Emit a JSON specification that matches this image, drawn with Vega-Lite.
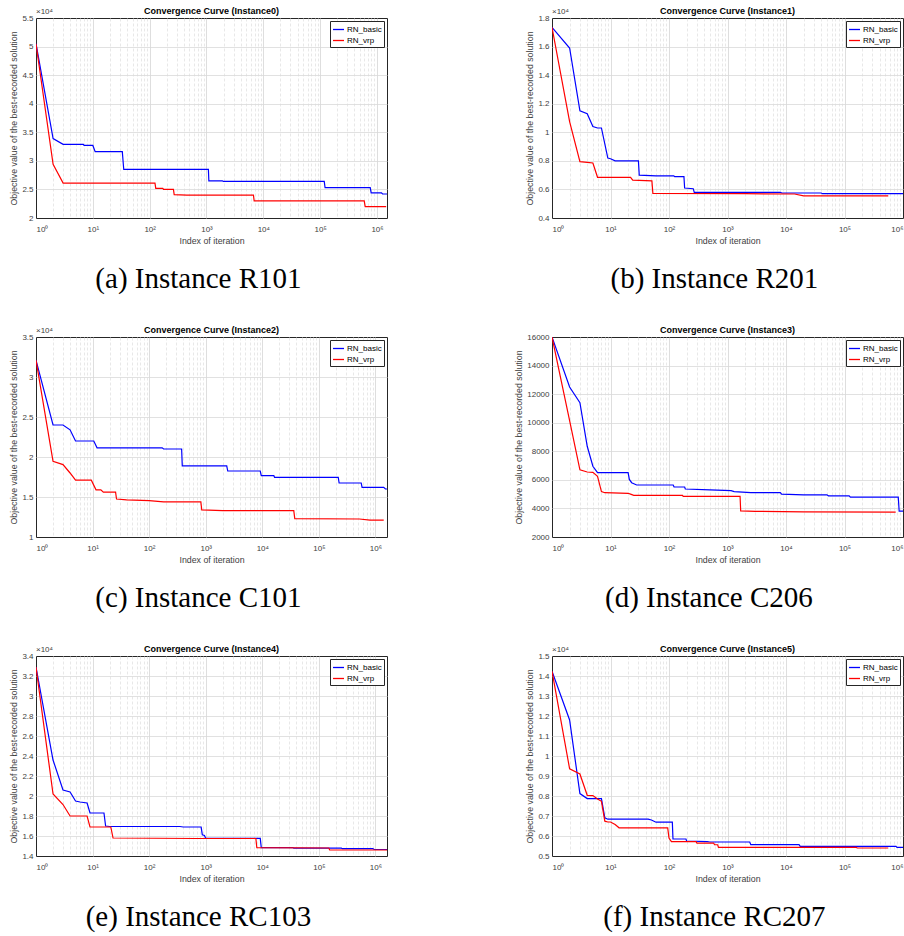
{
"$schema":"https://vega.github.io/schema/vega-lite/v6.json",
"padding":{"left":9,"top":6,"right":0,"bottom":0},
"data":{"values":[
{"p":"a","s":"RN_basic","x":1,"y":50500},{"p":"a","s":"RN_basic","x":2,"y":33900},{"p":"a","s":"RN_basic","x":3,"y":32900},{"p":"a","s":"RN_basic","x":6.8,"y":32900},{"p":"a","s":"RN_basic","x":7,"y":32700},{"p":"a","s":"RN_basic","x":10,"y":32700},{"p":"a","s":"RN_basic","x":11,"y":31600},{"p":"a","s":"RN_basic","x":33,"y":31600},{"p":"a","s":"RN_basic","x":35,"y":28500},{"p":"a","s":"RN_basic","x":1080,"y":28500},{"p":"a","s":"RN_basic","x":1100,"y":26500},{"p":"a","s":"RN_basic","x":1900,"y":26500},{"p":"a","s":"RN_basic","x":2000,"y":26400},{"p":"a","s":"RN_basic","x":118000,"y":26400},{"p":"a","s":"RN_basic","x":122000,"y":25300},{"p":"a","s":"RN_basic","x":760000,"y":25300},{"p":"a","s":"RN_basic","x":790000,"y":24400},{"p":"a","s":"RN_basic","x":1200000,"y":24400},{"p":"a","s":"RN_basic","x":1250000,"y":24200},{"p":"a","s":"RN_basic","x":1500000,"y":24200},
{"p":"a","s":"RN_vrp","x":1,"y":50500},{"p":"a","s":"RN_vrp","x":2,"y":29400},{"p":"a","s":"RN_vrp","x":3,"y":26100},{"p":"a","s":"RN_vrp","x":124,"y":26100},{"p":"a","s":"RN_vrp","x":128,"y":25200},{"p":"a","s":"RN_vrp","x":170,"y":25200},{"p":"a","s":"RN_vrp","x":175,"y":25000},{"p":"a","s":"RN_vrp","x":262,"y":25000},{"p":"a","s":"RN_vrp","x":270,"y":24100},{"p":"a","s":"RN_vrp","x":450,"y":24000},{"p":"a","s":"RN_vrp","x":6700,"y":24000},{"p":"a","s":"RN_vrp","x":6900,"y":23000},{"p":"a","s":"RN_vrp","x":596000,"y":23000},{"p":"a","s":"RN_vrp","x":620000,"y":22000},{"p":"a","s":"RN_vrp","x":1450000,"y":22000},
{"p":"b","s":"RN_basic","x":1,"y":17350},{"p":"b","s":"RN_basic","x":2,"y":15900},{"p":"b","s":"RN_basic","x":3,"y":11500},{"p":"b","s":"RN_basic","x":4,"y":11300},{"p":"b","s":"RN_basic","x":5,"y":10400},{"p":"b","s":"RN_basic","x":6,"y":10300},{"p":"b","s":"RN_basic","x":7,"y":10300},{"p":"b","s":"RN_basic","x":9,"y":8200},{"p":"b","s":"RN_basic","x":10,"y":8150},{"p":"b","s":"RN_basic","x":12,"y":8000},{"p":"b","s":"RN_basic","x":30,"y":8000},{"p":"b","s":"RN_basic","x":31,"y":7000},{"p":"b","s":"RN_basic","x":60,"y":6950},{"p":"b","s":"RN_basic","x":120,"y":6950},{"p":"b","s":"RN_basic","x":125,"y":6900},{"p":"b","s":"RN_basic","x":180,"y":6900},{"p":"b","s":"RN_basic","x":185,"y":6100},{"p":"b","s":"RN_basic","x":260,"y":6050},{"p":"b","s":"RN_basic","x":270,"y":5800},{"p":"b","s":"RN_basic","x":8000,"y":5800},{"p":"b","s":"RN_basic","x":8500,"y":5750},{"p":"b","s":"RN_basic","x":40000,"y":5750},{"p":"b","s":"RN_basic","x":42000,"y":5700},{"p":"b","s":"RN_basic","x":1000000,"y":5700},
{"p":"b","s":"RN_vrp","x":1,"y":17350},{"p":"b","s":"RN_vrp","x":2,"y":10750},{"p":"b","s":"RN_vrp","x":3,"y":7950},{"p":"b","s":"RN_vrp","x":4,"y":7900},{"p":"b","s":"RN_vrp","x":5,"y":7850},{"p":"b","s":"RN_vrp","x":6,"y":6850},{"p":"b","s":"RN_vrp","x":22,"y":6850},{"p":"b","s":"RN_vrp","x":24,"y":6650},{"p":"b","s":"RN_vrp","x":51,"y":6600},{"p":"b","s":"RN_vrp","x":53,"y":5730},{"p":"b","s":"RN_vrp","x":2000,"y":5700},{"p":"b","s":"RN_vrp","x":14000,"y":5680},{"p":"b","s":"RN_vrp","x":20000,"y":5550},{"p":"b","s":"RN_vrp","x":560000,"y":5550},
{"p":"c","s":"RN_basic","x":1,"y":32100},{"p":"c","s":"RN_basic","x":2,"y":24000},{"p":"c","s":"RN_basic","x":3,"y":24000},{"p":"c","s":"RN_basic","x":4,"y":23400},{"p":"c","s":"RN_basic","x":5,"y":22000},{"p":"c","s":"RN_basic","x":10.5,"y":22000},{"p":"c","s":"RN_basic","x":12,"y":21150},{"p":"c","s":"RN_basic","x":170,"y":21150},{"p":"c","s":"RN_basic","x":180,"y":21000},{"p":"c","s":"RN_basic","x":375,"y":21000},{"p":"c","s":"RN_basic","x":385,"y":18900},{"p":"c","s":"RN_basic","x":2350,"y":18900},{"p":"c","s":"RN_basic","x":2450,"y":18250},{"p":"c","s":"RN_basic","x":9200,"y":18250},{"p":"c","s":"RN_basic","x":9600,"y":17670},{"p":"c","s":"RN_basic","x":16000,"y":17670},{"p":"c","s":"RN_basic","x":16500,"y":17450},{"p":"c","s":"RN_basic","x":220000,"y":17450},{"p":"c","s":"RN_basic","x":228000,"y":16750},{"p":"c","s":"RN_basic","x":560000,"y":16750},{"p":"c","s":"RN_basic","x":580000,"y":16200},{"p":"c","s":"RN_basic","x":1400000,"y":16200},{"p":"c","s":"RN_basic","x":1500000,"y":16000},{"p":"c","s":"RN_basic","x":1600000,"y":16000},
{"p":"c","s":"RN_vrp","x":1,"y":32100},{"p":"c","s":"RN_vrp","x":2,"y":19450},{"p":"c","s":"RN_vrp","x":3,"y":19050},{"p":"c","s":"RN_vrp","x":4,"y":18000},{"p":"c","s":"RN_vrp","x":5,"y":17100},{"p":"c","s":"RN_vrp","x":9.5,"y":17100},{"p":"c","s":"RN_vrp","x":11.5,"y":15900},{"p":"c","s":"RN_vrp","x":14,"y":15900},{"p":"c","s":"RN_vrp","x":15.5,"y":15600},{"p":"c","s":"RN_vrp","x":25.5,"y":15600},{"p":"c","s":"RN_vrp","x":26.5,"y":14750},{"p":"c","s":"RN_vrp","x":40,"y":14650},{"p":"c","s":"RN_vrp","x":100,"y":14550},{"p":"c","s":"RN_vrp","x":180,"y":14400},{"p":"c","s":"RN_vrp","x":820,"y":14400},{"p":"c","s":"RN_vrp","x":850,"y":13400},{"p":"c","s":"RN_vrp","x":2000,"y":13300},{"p":"c","s":"RN_vrp","x":36000,"y":13300},{"p":"c","s":"RN_vrp","x":37500,"y":12300},{"p":"c","s":"RN_vrp","x":520000,"y":12250},{"p":"c","s":"RN_vrp","x":800000,"y":12100},{"p":"c","s":"RN_vrp","x":1400000,"y":12100},
{"p":"d","s":"RN_basic","x":1,"y":16000},{"p":"d","s":"RN_basic","x":2,"y":12500},{"p":"d","s":"RN_basic","x":3,"y":11400},{"p":"d","s":"RN_basic","x":4,"y":8350},{"p":"d","s":"RN_basic","x":5,"y":6950},{"p":"d","s":"RN_basic","x":6,"y":6500},{"p":"d","s":"RN_basic","x":20,"y":6500},{"p":"d","s":"RN_basic","x":21,"y":6030},{"p":"d","s":"RN_basic","x":23,"y":5800},{"p":"d","s":"RN_basic","x":28,"y":5640},{"p":"d","s":"RN_basic","x":118,"y":5640},{"p":"d","s":"RN_basic","x":122,"y":5500},{"p":"d","s":"RN_basic","x":185,"y":5500},{"p":"d","s":"RN_basic","x":190,"y":5360},{"p":"d","s":"RN_basic","x":500,"y":5300},{"p":"d","s":"RN_basic","x":1150,"y":5250},{"p":"d","s":"RN_basic","x":1300,"y":5180},{"p":"d","s":"RN_basic","x":2500,"y":5110},{"p":"d","s":"RN_basic","x":8000,"y":5110},{"p":"d","s":"RN_basic","x":8400,"y":5000},{"p":"d","s":"RN_basic","x":20000,"y":4950},{"p":"d","s":"RN_basic","x":50000,"y":4950},{"p":"d","s":"RN_basic","x":53000,"y":4880},{"p":"d","s":"RN_basic","x":120000,"y":4880},{"p":"d","s":"RN_basic","x":126000,"y":4790},{"p":"d","s":"RN_basic","x":830000,"y":4790},{"p":"d","s":"RN_basic","x":860000,"y":3810},{"p":"d","s":"RN_basic","x":1000000,"y":3810},
{"p":"d","s":"RN_vrp","x":1,"y":16000},{"p":"d","s":"RN_vrp","x":2,"y":10150},{"p":"d","s":"RN_vrp","x":3,"y":6700},{"p":"d","s":"RN_vrp","x":4,"y":6550},{"p":"d","s":"RN_vrp","x":5,"y":6530},{"p":"d","s":"RN_vrp","x":6,"y":6250},{"p":"d","s":"RN_vrp","x":7,"y":5180},{"p":"d","s":"RN_vrp","x":8,"y":5100},{"p":"d","s":"RN_vrp","x":20,"y":5060},{"p":"d","s":"RN_vrp","x":22,"y":5000},{"p":"d","s":"RN_vrp","x":25,"y":4920},{"p":"d","s":"RN_vrp","x":170,"y":4920},{"p":"d","s":"RN_vrp","x":175,"y":4850},{"p":"d","s":"RN_vrp","x":1640,"y":4850},{"p":"d","s":"RN_vrp","x":1680,"y":3830},{"p":"d","s":"RN_vrp","x":3000,"y":3800},{"p":"d","s":"RN_vrp","x":20000,"y":3765},{"p":"d","s":"RN_vrp","x":750000,"y":3740},
{"p":"e","s":"RN_basic","x":1,"y":32900},{"p":"e","s":"RN_basic","x":2,"y":23600},{"p":"e","s":"RN_basic","x":3,"y":20600},{"p":"e","s":"RN_basic","x":4,"y":20400},{"p":"e","s":"RN_basic","x":5,"y":19500},{"p":"e","s":"RN_basic","x":6,"y":19400},{"p":"e","s":"RN_basic","x":8,"y":19300},{"p":"e","s":"RN_basic","x":9,"y":18300},{"p":"e","s":"RN_basic","x":15.9,"y":18300},{"p":"e","s":"RN_basic","x":17,"y":17000},{"p":"e","s":"RN_basic","x":20,"y":16950},{"p":"e","s":"RN_basic","x":350,"y":16950},{"p":"e","s":"RN_basic","x":400,"y":16900},{"p":"e","s":"RN_basic","x":830,"y":16900},{"p":"e","s":"RN_basic","x":870,"y":16130},{"p":"e","s":"RN_basic","x":950,"y":16050},{"p":"e","s":"RN_basic","x":1000,"y":15760},{"p":"e","s":"RN_basic","x":9200,"y":15760},{"p":"e","s":"RN_basic","x":9600,"y":14830},{"p":"e","s":"RN_basic","x":35000,"y":14830},{"p":"e","s":"RN_basic","x":36000,"y":14780},{"p":"e","s":"RN_basic","x":250000,"y":14780},{"p":"e","s":"RN_basic","x":260000,"y":14730},{"p":"e","s":"RN_basic","x":900000,"y":14730},{"p":"e","s":"RN_basic","x":950000,"y":14650},{"p":"e","s":"RN_basic","x":1600000,"y":14650},
{"p":"e","s":"RN_vrp","x":1,"y":32900},{"p":"e","s":"RN_vrp","x":2,"y":20200},{"p":"e","s":"RN_vrp","x":3,"y":19150},{"p":"e","s":"RN_vrp","x":4,"y":18000},{"p":"e","s":"RN_vrp","x":8,"y":18000},{"p":"e","s":"RN_vrp","x":9,"y":16900},{"p":"e","s":"RN_vrp","x":21,"y":16900},{"p":"e","s":"RN_vrp","x":23,"y":15800},{"p":"e","s":"RN_vrp","x":700,"y":15750},{"p":"e","s":"RN_vrp","x":7700,"y":15750},{"p":"e","s":"RN_vrp","x":8000,"y":14830},{"p":"e","s":"RN_vrp","x":150000,"y":14800},{"p":"e","s":"RN_vrp","x":155000,"y":14600},{"p":"e","s":"RN_vrp","x":1600000,"y":14600},
{"p":"f","s":"RN_basic","x":1,"y":14240},{"p":"f","s":"RN_basic","x":2,"y":11800},{"p":"f","s":"RN_basic","x":3,"y":8120},{"p":"f","s":"RN_basic","x":4,"y":7870},{"p":"f","s":"RN_basic","x":7,"y":7870},{"p":"f","s":"RN_basic","x":8,"y":6910},{"p":"f","s":"RN_basic","x":9,"y":6840},{"p":"f","s":"RN_basic","x":44,"y":6840},{"p":"f","s":"RN_basic","x":50,"y":6800},{"p":"f","s":"RN_basic","x":60,"y":6690},{"p":"f","s":"RN_basic","x":114,"y":6690},{"p":"f","s":"RN_basic","x":117,"y":5850},{"p":"f","s":"RN_basic","x":195,"y":5850},{"p":"f","s":"RN_basic","x":200,"y":5750},{"p":"f","s":"RN_basic","x":450,"y":5720},{"p":"f","s":"RN_basic","x":500,"y":5700},{"p":"f","s":"RN_basic","x":2400,"y":5700},{"p":"f","s":"RN_basic","x":2500,"y":5565},{"p":"f","s":"RN_basic","x":16700,"y":5565},{"p":"f","s":"RN_basic","x":17500,"y":5480},{"p":"f","s":"RN_basic","x":760000,"y":5480},{"p":"f","s":"RN_basic","x":790000,"y":5430},{"p":"f","s":"RN_basic","x":1000000,"y":5430},
{"p":"f","s":"RN_vrp","x":1,"y":14240},{"p":"f","s":"RN_vrp","x":2,"y":9360},{"p":"f","s":"RN_vrp","x":3,"y":9100},{"p":"f","s":"RN_vrp","x":4,"y":8035},{"p":"f","s":"RN_vrp","x":5,"y":8020},{"p":"f","s":"RN_vrp","x":6,"y":7850},{"p":"f","s":"RN_vrp","x":7,"y":7735},{"p":"f","s":"RN_vrp","x":8,"y":6740},{"p":"f","s":"RN_vrp","x":9,"y":6700},{"p":"f","s":"RN_vrp","x":10,"y":6700},{"p":"f","s":"RN_vrp","x":12,"y":6570},{"p":"f","s":"RN_vrp","x":14,"y":6410},{"p":"f","s":"RN_vrp","x":95,"y":6410},{"p":"f","s":"RN_vrp","x":100,"y":5895},{"p":"f","s":"RN_vrp","x":110,"y":5715},{"p":"f","s":"RN_vrp","x":290,"y":5715},{"p":"f","s":"RN_vrp","x":300,"y":5647},{"p":"f","s":"RN_vrp","x":580,"y":5647},{"p":"f","s":"RN_vrp","x":600,"y":5563},{"p":"f","s":"RN_vrp","x":680,"y":5563},{"p":"f","s":"RN_vrp","x":700,"y":5430},{"p":"f","s":"RN_vrp","x":160000,"y":5430},{"p":"f","s":"RN_vrp","x":165000,"y":5400},{"p":"f","s":"RN_vrp","x":560000,"y":5400}
]},
"spacing":30,
"resolve":{"scale":{"color":"independent"},"legend":{"color":"independent"}},
"vconcat":[
{"spacing":137,"resolve":{"scale":{"color":"independent"},"legend":{"color":"independent"}},"hconcat":[
{"title":{"text":"(a) Instance R101","orient":"bottom","font":"Liberation Serif","fontSize":29,"fontWeight":"normal","color":"#000000","offset":20,"anchor":"middle"},"resolve":{"scale":{"color":"independent"},"legend":{"color":"independent"}},"vconcat":[
{"width":351,"height":200,"title":"Convergence Curve (Instance0)","layer":[
{"transform":[{"filter":"datum.p==='a'"}],"mark":{"type":"line","strokeWidth":1.2,"clip":true},"encoding":{
"x":{"field":"x","type":"quantitative","scale":{"type":"log","domain":[1,1500000],"nice":false},"axis":{"title":"Index of iteration","labelOverlap":false,"values":[1,2,3,4,5,6,7,8,9,10,20,30,40,50,60,70,80,90,100,200,300,400,500,600,700,800,900,1000,2000,3000,4000,5000,6000,7000,8000,9000,10000,20000,30000,40000,50000,60000,70000,80000,90000,100000,200000,300000,400000,500000,600000,700000,800000,900000,1000000],"labelExpr":"indexof([1,10,100,1000,10000,100000,1000000], datum.value) >= 0 ? '10' + ['⁰','¹','²','³','⁴','⁵','⁶'][indexof([1,10,100,1000,10000,100000,1000000], datum.value)] : ''","gridDash":{"condition":{"test":"indexof([1,10,100,1000,10000,100000,1000000], datum.value) >= 0","value":[]},"value":[3,2]},"gridColor":{"condition":{"test":"indexof([1,10,100,1000,10000,100000,1000000], datum.value) >= 0","value":"#d6d6d6"},"value":"#e2e2e2"},"gridOpacity":{"condition":{"test":"datum.value == 1","value":0},"value":1}}},
"y":{"field":"y","type":"quantitative","scale":{"domain":[20000,55000],"nice":false},"axis":{"title":"Objective value of the best-recorded solution","labelOverlap":false,"values":[20000,25000,30000,35000,40000,45000,50000,55000],"labelExpr":"format(datum.value/10000,'.1~f')","gridOpacity":{"condition":{"test":"datum.value == 20000 || datum.value == 55000","value":0},"value":1}}},
"color":{"field":"s","type":"nominal","scale":{"domain":["RN_basic","RN_vrp"],"range":["#0000ff","#ff0000"]}}}},
{"data":{"values":[{}]},"mark":{"type":"text","align":"left","baseline":"bottom","dy":-2,"fontSize":8,"color":"#404040"},"encoding":{"x":{"datum":1,"type":"quantitative"},"y":{"datum":55000,"type":"quantitative","axis":{"title":"Objective value of the best-recorded solution","labelOverlap":false,"values":[20000,25000,30000,35000,40000,45000,50000,55000],"labelExpr":"format(datum.value/10000,'.1~f')","gridOpacity":{"condition":{"test":"datum.value == 20000 || datum.value == 55000","value":0},"value":1}}},"text":{"value":"×10⁴"}}}
]}]},
{"title":{"text":"(b) Instance R201","orient":"bottom","font":"Liberation Serif","fontSize":29,"fontWeight":"normal","color":"#000000","offset":20,"anchor":"middle"},"resolve":{"scale":{"color":"independent"},"legend":{"color":"independent"}},"vconcat":[
{"width":351,"height":200,"title":"Convergence Curve (Instance1)","layer":[
{"transform":[{"filter":"datum.p==='b'"}],"mark":{"type":"line","strokeWidth":1.2,"clip":true},"encoding":{
"x":{"field":"x","type":"quantitative","scale":{"type":"log","domain":[1,1000000],"nice":false},"axis":{"title":"Index of iteration","labelOverlap":false,"values":[1,2,3,4,5,6,7,8,9,10,20,30,40,50,60,70,80,90,100,200,300,400,500,600,700,800,900,1000,2000,3000,4000,5000,6000,7000,8000,9000,10000,20000,30000,40000,50000,60000,70000,80000,90000,100000,200000,300000,400000,500000,600000,700000,800000,900000,1000000],"labelExpr":"indexof([1,10,100,1000,10000,100000,1000000], datum.value) >= 0 ? '10' + ['⁰','¹','²','³','⁴','⁵','⁶'][indexof([1,10,100,1000,10000,100000,1000000], datum.value)] : ''","gridDash":{"condition":{"test":"indexof([1,10,100,1000,10000,100000,1000000], datum.value) >= 0","value":[]},"value":[3,2]},"gridColor":{"condition":{"test":"indexof([1,10,100,1000,10000,100000,1000000], datum.value) >= 0","value":"#d6d6d6"},"value":"#e2e2e2"},"gridOpacity":{"condition":{"test":"datum.value == 1 || datum.value == 1000000","value":0},"value":1}}},
"y":{"field":"y","type":"quantitative","scale":{"domain":[4000,18000],"nice":false},"axis":{"title":"Objective value of the best-recorded solution","labelOverlap":false,"values":[4000,6000,8000,10000,12000,14000,16000,18000],"labelExpr":"format(datum.value/10000,'.1~f')","gridOpacity":{"condition":{"test":"datum.value == 4000 || datum.value == 18000","value":0},"value":1}}},
"color":{"field":"s","type":"nominal","scale":{"domain":["RN_basic","RN_vrp"],"range":["#0000ff","#ff0000"]}}}},
{"data":{"values":[{}]},"mark":{"type":"text","align":"left","baseline":"bottom","dy":-2,"fontSize":8,"color":"#404040"},"encoding":{"x":{"datum":1,"type":"quantitative"},"y":{"datum":18000,"type":"quantitative","axis":{"title":"Objective value of the best-recorded solution","labelOverlap":false,"values":[4000,6000,8000,10000,12000,14000,16000,18000],"labelExpr":"format(datum.value/10000,'.1~f')","gridOpacity":{"condition":{"test":"datum.value == 4000 || datum.value == 18000","value":0},"value":1}}},"text":{"value":"×10⁴"}}}
]}]}
]},
{"spacing":126,"resolve":{"scale":{"color":"independent"},"legend":{"color":"independent"}},"hconcat":[
{"title":{"text":"(c) Instance C101","orient":"bottom","font":"Liberation Serif","fontSize":29,"fontWeight":"normal","color":"#000000","offset":20,"anchor":"middle"},"resolve":{"scale":{"color":"independent"},"legend":{"color":"independent"}},"vconcat":[
{"width":351,"height":200,"title":"Convergence Curve (Instance2)","layer":[
{"transform":[{"filter":"datum.p==='c'"}],"mark":{"type":"line","strokeWidth":1.2,"clip":true},"encoding":{
"x":{"field":"x","type":"quantitative","scale":{"type":"log","domain":[1,1600000],"nice":false},"axis":{"title":"Index of iteration","labelOverlap":false,"values":[1,2,3,4,5,6,7,8,9,10,20,30,40,50,60,70,80,90,100,200,300,400,500,600,700,800,900,1000,2000,3000,4000,5000,6000,7000,8000,9000,10000,20000,30000,40000,50000,60000,70000,80000,90000,100000,200000,300000,400000,500000,600000,700000,800000,900000,1000000],"labelExpr":"indexof([1,10,100,1000,10000,100000,1000000], datum.value) >= 0 ? '10' + ['⁰','¹','²','³','⁴','⁵','⁶'][indexof([1,10,100,1000,10000,100000,1000000], datum.value)] : ''","gridDash":{"condition":{"test":"indexof([1,10,100,1000,10000,100000,1000000], datum.value) >= 0","value":[]},"value":[3,2]},"gridColor":{"condition":{"test":"indexof([1,10,100,1000,10000,100000,1000000], datum.value) >= 0","value":"#d6d6d6"},"value":"#e2e2e2"},"gridOpacity":{"condition":{"test":"datum.value == 1","value":0},"value":1}}},
"y":{"field":"y","type":"quantitative","scale":{"domain":[10000,35000],"nice":false},"axis":{"title":"Objective value of the best-recorded solution","labelOverlap":false,"values":[10000,15000,20000,25000,30000,35000],"labelExpr":"format(datum.value/10000,'.1~f')","gridOpacity":{"condition":{"test":"datum.value == 10000 || datum.value == 35000","value":0},"value":1}}},
"color":{"field":"s","type":"nominal","scale":{"domain":["RN_basic","RN_vrp"],"range":["#0000ff","#ff0000"]}}}},
{"data":{"values":[{}]},"mark":{"type":"text","align":"left","baseline":"bottom","dy":-2,"fontSize":8,"color":"#404040"},"encoding":{"x":{"datum":1,"type":"quantitative"},"y":{"datum":35000,"type":"quantitative","axis":{"title":"Objective value of the best-recorded solution","labelOverlap":false,"values":[10000,15000,20000,25000,30000,35000],"labelExpr":"format(datum.value/10000,'.1~f')","gridOpacity":{"condition":{"test":"datum.value == 10000 || datum.value == 35000","value":0},"value":1}}},"text":{"value":"×10⁴"}}}
]}]},
{"title":{"text":"(d) Instance C206","orient":"bottom","font":"Liberation Serif","fontSize":29,"fontWeight":"normal","color":"#000000","offset":20,"anchor":"middle"},"resolve":{"scale":{"color":"independent"},"legend":{"color":"independent"}},"vconcat":[
{"width":351,"height":200,"title":{"text":"Convergence Curve (Instance3)","offset":-2},"layer":[
{"transform":[{"filter":"datum.p==='d'"}],"mark":{"type":"line","strokeWidth":1.2,"clip":true},"encoding":{
"x":{"field":"x","type":"quantitative","scale":{"type":"log","domain":[1,1000000],"nice":false},"axis":{"title":"Index of iteration","labelOverlap":false,"values":[1,2,3,4,5,6,7,8,9,10,20,30,40,50,60,70,80,90,100,200,300,400,500,600,700,800,900,1000,2000,3000,4000,5000,6000,7000,8000,9000,10000,20000,30000,40000,50000,60000,70000,80000,90000,100000,200000,300000,400000,500000,600000,700000,800000,900000,1000000],"labelExpr":"indexof([1,10,100,1000,10000,100000,1000000], datum.value) >= 0 ? '10' + ['⁰','¹','²','³','⁴','⁵','⁶'][indexof([1,10,100,1000,10000,100000,1000000], datum.value)] : ''","gridDash":{"condition":{"test":"indexof([1,10,100,1000,10000,100000,1000000], datum.value) >= 0","value":[]},"value":[3,2]},"gridColor":{"condition":{"test":"indexof([1,10,100,1000,10000,100000,1000000], datum.value) >= 0","value":"#d6d6d6"},"value":"#e2e2e2"},"gridOpacity":{"condition":{"test":"datum.value == 1 || datum.value == 1000000","value":0},"value":1}}},
"y":{"field":"y","type":"quantitative","scale":{"domain":[2000,16000],"nice":false},"axis":{"title":"Objective value of the best-recorded solution","labelOverlap":false,"values":[2000,4000,6000,8000,10000,12000,14000,16000],"format":"d","gridOpacity":{"condition":{"test":"datum.value == 2000 || datum.value == 16000","value":0},"value":1}}},
"color":{"field":"s","type":"nominal","scale":{"domain":["RN_basic","RN_vrp"],"range":["#0000ff","#ff0000"]}}}}
]}]}
]},
{"spacing":137,"resolve":{"scale":{"color":"independent"},"legend":{"color":"independent"}},"hconcat":[
{"title":{"text":"(e) Instance RC103","orient":"bottom","font":"Liberation Serif","fontSize":29,"fontWeight":"normal","color":"#000000","offset":20,"anchor":"middle"},"resolve":{"scale":{"color":"independent"},"legend":{"color":"independent"}},"vconcat":[
{"width":351,"height":200,"title":"Convergence Curve (Instance4)","layer":[
{"transform":[{"filter":"datum.p==='e'"}],"mark":{"type":"line","strokeWidth":1.2,"clip":true},"encoding":{
"x":{"field":"x","type":"quantitative","scale":{"type":"log","domain":[1,1600000],"nice":false},"axis":{"title":"Index of iteration","labelOverlap":false,"values":[1,2,3,4,5,6,7,8,9,10,20,30,40,50,60,70,80,90,100,200,300,400,500,600,700,800,900,1000,2000,3000,4000,5000,6000,7000,8000,9000,10000,20000,30000,40000,50000,60000,70000,80000,90000,100000,200000,300000,400000,500000,600000,700000,800000,900000,1000000],"labelExpr":"indexof([1,10,100,1000,10000,100000,1000000], datum.value) >= 0 ? '10' + ['⁰','¹','²','³','⁴','⁵','⁶'][indexof([1,10,100,1000,10000,100000,1000000], datum.value)] : ''","gridDash":{"condition":{"test":"indexof([1,10,100,1000,10000,100000,1000000], datum.value) >= 0","value":[]},"value":[3,2]},"gridColor":{"condition":{"test":"indexof([1,10,100,1000,10000,100000,1000000], datum.value) >= 0","value":"#d6d6d6"},"value":"#e2e2e2"},"gridOpacity":{"condition":{"test":"datum.value == 1","value":0},"value":1}}},
"y":{"field":"y","type":"quantitative","scale":{"domain":[14000,34000],"nice":false},"axis":{"title":"Objective value of the best-recorded solution","labelOverlap":false,"values":[14000,16000,18000,20000,22000,24000,26000,28000,30000,32000,34000],"labelExpr":"format(datum.value/10000,'.1~f')","gridOpacity":{"condition":{"test":"datum.value == 14000 || datum.value == 34000","value":0},"value":1}}},
"color":{"field":"s","type":"nominal","scale":{"domain":["RN_basic","RN_vrp"],"range":["#0000ff","#ff0000"]}}}},
{"data":{"values":[{}]},"mark":{"type":"text","align":"left","baseline":"bottom","dy":-2,"fontSize":8,"color":"#404040"},"encoding":{"x":{"datum":1,"type":"quantitative"},"y":{"datum":34000,"type":"quantitative","axis":{"title":"Objective value of the best-recorded solution","labelOverlap":false,"values":[14000,16000,18000,20000,22000,24000,26000,28000,30000,32000,34000],"labelExpr":"format(datum.value/10000,'.1~f')","gridOpacity":{"condition":{"test":"datum.value == 14000 || datum.value == 34000","value":0},"value":1}}},"text":{"value":"×10⁴"}}}
]}]},
{"title":{"text":"(f) Instance RC207","orient":"bottom","font":"Liberation Serif","fontSize":29,"fontWeight":"normal","color":"#000000","offset":20,"anchor":"middle"},"resolve":{"scale":{"color":"independent"},"legend":{"color":"independent"}},"vconcat":[
{"width":351,"height":200,"title":"Convergence Curve (Instance5)","layer":[
{"transform":[{"filter":"datum.p==='f'"}],"mark":{"type":"line","strokeWidth":1.2,"clip":true},"encoding":{
"x":{"field":"x","type":"quantitative","scale":{"type":"log","domain":[1,1000000],"nice":false},"axis":{"title":"Index of iteration","labelOverlap":false,"values":[1,2,3,4,5,6,7,8,9,10,20,30,40,50,60,70,80,90,100,200,300,400,500,600,700,800,900,1000,2000,3000,4000,5000,6000,7000,8000,9000,10000,20000,30000,40000,50000,60000,70000,80000,90000,100000,200000,300000,400000,500000,600000,700000,800000,900000,1000000],"labelExpr":"indexof([1,10,100,1000,10000,100000,1000000], datum.value) >= 0 ? '10' + ['⁰','¹','²','³','⁴','⁵','⁶'][indexof([1,10,100,1000,10000,100000,1000000], datum.value)] : ''","gridDash":{"condition":{"test":"indexof([1,10,100,1000,10000,100000,1000000], datum.value) >= 0","value":[]},"value":[3,2]},"gridColor":{"condition":{"test":"indexof([1,10,100,1000,10000,100000,1000000], datum.value) >= 0","value":"#d6d6d6"},"value":"#e2e2e2"},"gridOpacity":{"condition":{"test":"datum.value == 1 || datum.value == 1000000","value":0},"value":1}}},
"y":{"field":"y","type":"quantitative","scale":{"domain":[5000,15000],"nice":false},"axis":{"title":"Objective value of the best-recorded solution","labelOverlap":false,"values":[5000,6000,7000,8000,9000,10000,11000,12000,13000,14000,15000],"labelExpr":"format(datum.value/10000,'.1~f')","gridOpacity":{"condition":{"test":"datum.value == 5000 || datum.value == 15000","value":0},"value":1}}},
"color":{"field":"s","type":"nominal","scale":{"domain":["RN_basic","RN_vrp"],"range":["#0000ff","#ff0000"]}}}},
{"data":{"values":[{}]},"mark":{"type":"text","align":"left","baseline":"bottom","dy":-2,"fontSize":8,"color":"#404040"},"encoding":{"x":{"datum":1,"type":"quantitative"},"y":{"datum":15000,"type":"quantitative","axis":{"title":"Objective value of the best-recorded solution","labelOverlap":false,"values":[5000,6000,7000,8000,9000,10000,11000,12000,13000,14000,15000],"labelExpr":"format(datum.value/10000,'.1~f')","gridOpacity":{"condition":{"test":"datum.value == 5000 || datum.value == 15000","value":0},"value":1}}},"text":{"value":"×10⁴"}}}
]}]}
]}
],
"config":{
"font":"Liberation Sans",
"view":{"stroke":"#262626","strokeWidth":1},
"axis":{"labelFont":"Liberation Sans","labelFontSize":8,"labelColor":"#404040","titleFont":"Liberation Sans","titleFontSize":8.8,"titleFontWeight":"normal","titleColor":"#404040","ticks":false,"domain":false,"gridColor":"#d9d9d9","gridWidth":0.8,"labelPadding":4,"titlePadding":3,"labelOverlap":false},
"axisX":{"labelPadding":7},
"axisY":{"labelPadding":3},
"title":{"font":"Liberation Sans","fontSize":9,"fontWeight":"bold","color":"#000000","offset":-8},
"legend":{"orient":"top-right","offset":3,"title":null,"padding":2,"strokeColor":"#262626","fillColor":"#ffffff","symbolType":"stroke","symbolSize":121,"symbolStrokeWidth":1.3,"labelFontSize":8,"labelFont":"Liberation Sans","labelColor":"#000000","rowPadding":0,"labelOffset":2,"cornerRadius":0}
}
}
